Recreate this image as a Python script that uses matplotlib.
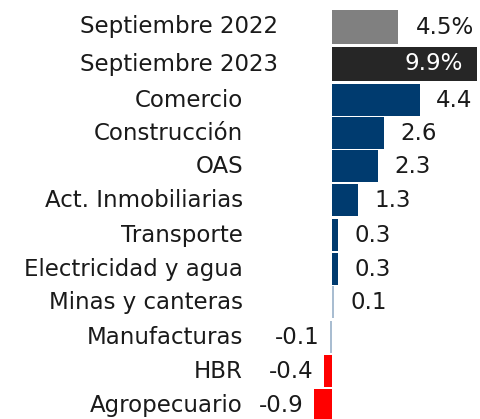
import matplotlib
matplotlib.use("Agg")
import matplotlib.pyplot as plt
from matplotlib.transforms import blended_transform_factory

plt.rcParams['font.family'] = ['DejaVu Sans']

total_labels = ["Septiembre 2022", "Septiembre 2023"]
total_values = [4.5, 9.9]
total_colors = ["#808080", "#262626"]

sectors = ["Comercio", "Construcción", "OAS", "Act. Inmobiliarias", "Transporte",
           "Electricidad y agua", "Minas y canteras", "Manufacturas", "HBR", "Agropecuario"]
sector_values = [4.4, 2.6, 2.3, 1.3, 0.3, 0.3, 0.1, -0.1, -0.4, -0.9]
sector_colors = ["#003b6f"] * 6 + ["#a9bdd1", "#a9bdd1", "#ff0000", "#ff0000"]

W, H = 480, 419
fig = plt.figure(figsize=(W / 100, H / 100), dpi=100)
ax_left_px, ax_right_px = 300, 480
ax = fig.add_axes([ax_left_px / W, 0, (ax_right_px - ax_left_px) / W, 1])
zero_px = 332
s_sec = 20.0  # px per unit
s_tot = 14.6
ax.set_xlim((ax_left_px - zero_px) / s_sec, (ax_right_px - zero_px) / s_sec)
ax2 = ax.twiny()
ax2.set_xlim((ax_left_px - zero_px) / s_tot, (ax_right_px - zero_px) / s_tot)

ypos_tot = [27, 64]
ypos_sec = [100, 133, 166, 200, 235, 269, 302, 337, 371, 405]
ax.set_ylim(H, 0)
ax2.set_ylim(H, 0)

for a in (ax, ax2):
    a.axis("off")

fs = 16.5
tc = "#1a1a1a"
bt = blended_transform_factory(fig.transFigure, ax.transData)

for lab, v, c, y in zip(total_labels, total_values, total_colors, ypos_tot):
    ax2.barh(y, v, height=34, color=c, left=0)
    ax.text(278 / W, y, lab, transform=bt, ha="right", va="center", fontsize=fs, color=tc)

ax2.annotate(f"{total_values[0]}%", (total_values[0], ypos_tot[0]), xytext=(18, 0),
             textcoords="offset pixels", ha="left", va="center", fontsize=fs, color=tc)
ax2.annotate(f"{total_values[1]}%", (total_values[1], ypos_tot[1]), xytext=(-14, 0),
             textcoords="offset pixels", ha="right", va="center", fontsize=fs, color="white")

for lab, v, c, y in zip(sectors, sector_values, sector_colors, ypos_sec):
    ax.barh(y, v, height=32, color=c)
    ax.text(243 / W, y, lab, transform=bt, ha="right", va="center", fontsize=fs, color=tc)
    if v >= 0:
        ax.annotate(f"{v}", (v, y), xytext=(16, 0), textcoords="offset pixels",
                    ha="left", va="center", fontsize=fs, color=tc)
    else:
        ax.annotate(f"{v}", (v, y), xytext=(-10, 0), textcoords="offset pixels",
                    ha="right", va="center", fontsize=fs, color=tc)

fig.savefig("out.png", dpi=100)
